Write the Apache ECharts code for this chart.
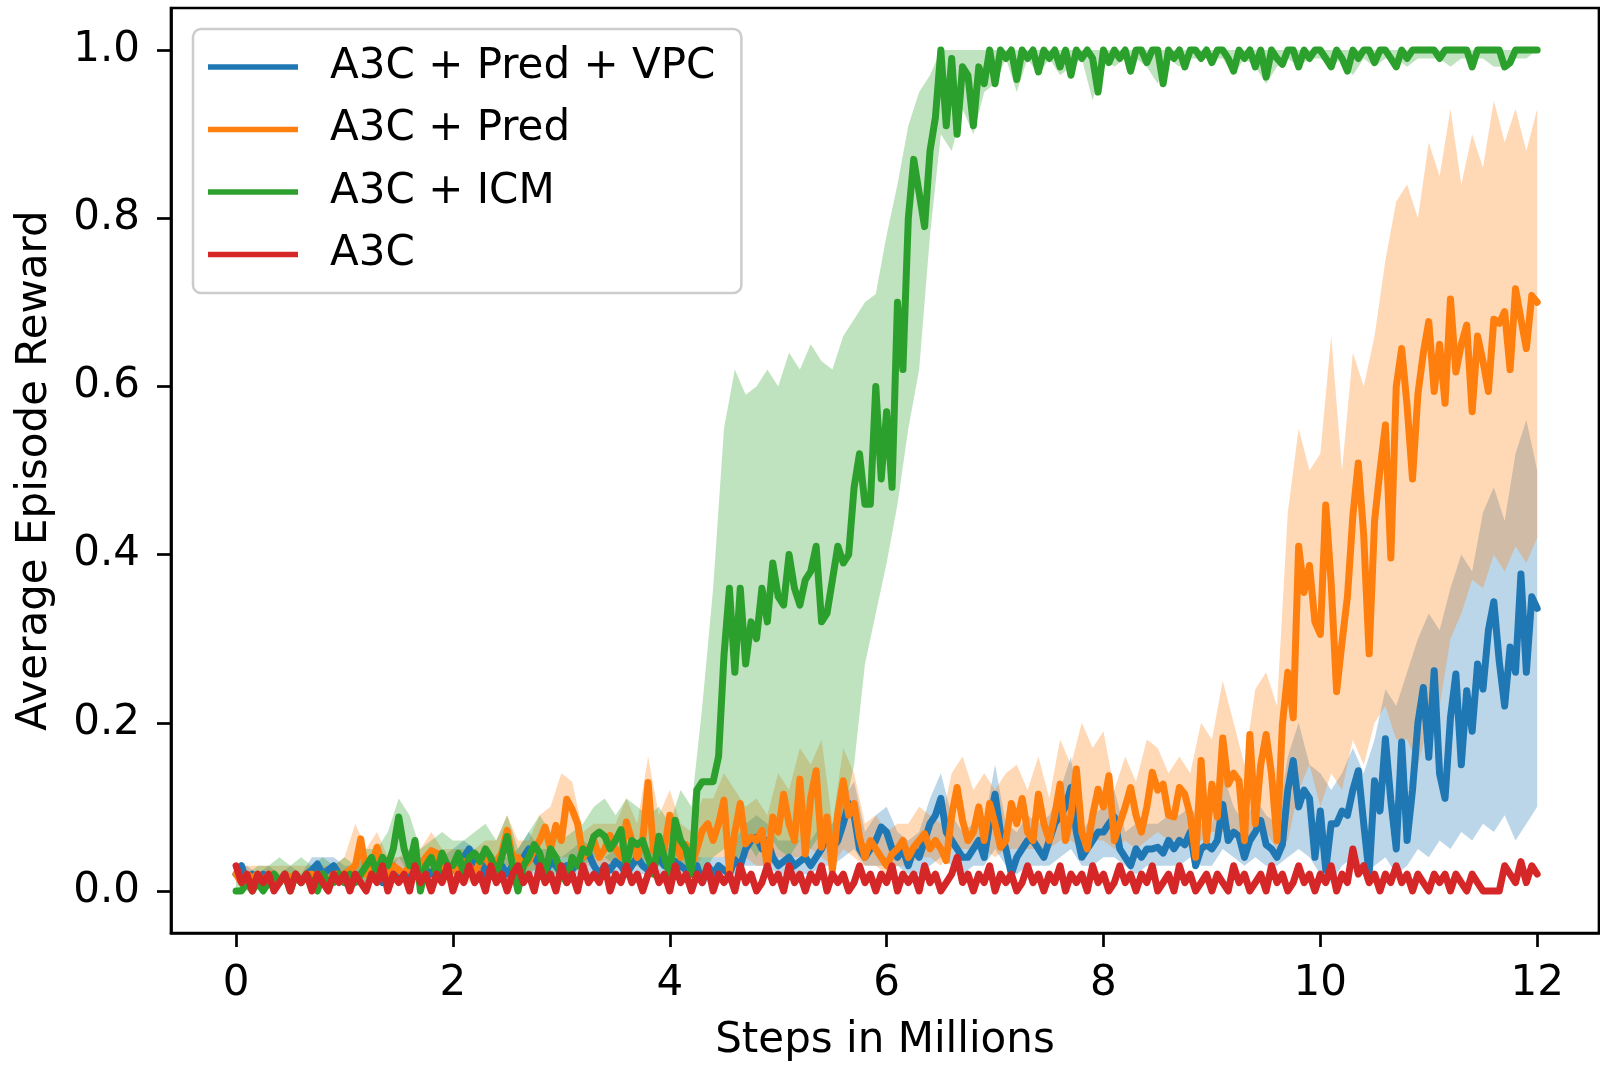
<!DOCTYPE html>
<html>
<head>
<meta charset="utf-8">
<script src="https://cdn.jsdelivr.net/npm/echarts@6/dist/echarts.min.js"></script>
<style>
html, body { margin: 0; padding: 0; background: #fff; }
#chart { width: 1600px; height: 1067px; }
</style>
</head>
<body>
<div id="chart"></div>
<script>
// tick labels
var xTicks = [0, 2, 4, 6, 8, 10, 12];
var yTicks = [0, 0.2, 0.4, 0.6, 0.8, 1.0];
var names = ['A3C + Pred + VPC', 'A3C + Pred', 'A3C + ICM', 'A3C'];
var colors = ['#1f77b4', '#ff7f0e', '#2ca02c', '#d62728'];
var bandColors = ['rgba(31,119,180,0.3)', 'rgba(255,127,14,0.3)', 'rgba(44,160,44,0.3)'];

// mean curves, one value every 0.05M steps (0 .. 12)
var vpcMean = [
  0.02,0.03,0.01,0.02,0.01,0.02,0.01,0.02,0.01,0.02,0.01,0.02,0.01,0.02,0.025,0.032,0.02,0.025,0.03,0.02,
  0.01,0.02,0.015,0.02,0.025,0.035,0.02,0.01,0.02,0.03,0.02,0.015,0.02,0.03,0.02,0.025,0.02,0.03,0.02,0.025,
  0.03,0.02,0.04,0.05,0.03,0.04,0.02,0.03,0.025,0.03,0.02,0.03,0.02,0.04,0.05,0.04,0.03,0.02,0.035,0.03,
  0.02,0.03,0.025,0.035,0.04,0.045,0.03,0.02,0.03,0.025,0.035,0.03,0.02,0.03,0.04,0.03,0.025,0.03,0.04,0.03,
  0.03,0.035,0.03,0.025,0.02,0.03,0.01,0.03,0.02,0.03,0.025,0.02,0.037,0.03,0.05,0.06,0.064,0.05,0.06,0.04,
  0.03,0.035,0.04,0.03,0.035,0.04,0.03,0.04,0.05,0.064,0.05,0.06,0.08,0.104,0.09,0.05,0.04,0.05,0.06,0.076,
  0.07,0.05,0.04,0.05,0.03,0.05,0.04,0.06,0.08,0.09,0.11,0.07,0.06,0.05,0.04,0.04,0.05,0.06,0.04,0.08,
  0.115,0.07,0.05,0.02,0.04,0.05,0.06,0.06,0.05,0.04,0.06,0.08,0.09,0.1,0.123,0.07,0.04,0.05,0.06,0.07,
  0.07,0.08,0.088,0.05,0.04,0.03,0.05,0.04,0.05,0.05,0.052,0.045,0.06,0.05,0.06,0.055,0.07,0.03,0.05,0.055,
  0.05,0.06,0.103,0.06,0.07,0.065,0.04,0.06,0.07,0.084,0.055,0.05,0.04,0.055,0.12,0.155,0.1,0.12,0.11,0.04,
  0.095,0.025,0.08,0.08,0.095,0.09,0.12,0.143,0.08,0.02,0.131,0.095,0.181,0.108,0.05,0.177,0.06,0.12,0.2,0.242,
  0.159,0.262,0.139,0.11,0.206,0.258,0.15,0.238,0.19,0.27,0.24,0.31,0.344,0.273,0.22,0.29,0.26,0.377,0.26,0.35,
  0.336
];
var predMean = [
  0.02,0.01,0.02,0.015,0.02,0.01,0.02,0.02,0.01,0.02,0.015,0.02,0.01,0.02,0.02,0.015,0.02,0.01,0.02,0.02,
  0.02,0.025,0.03,0.062,0.02,0.03,0.052,0.03,0.02,0.03,0.025,0.02,0.03,0.035,0.03,0.04,0.048,0.045,0.03,0.025,
  0.03,0.02,0.035,0.03,0.02,0.035,0.04,0.03,0.035,0.045,0.072,0.04,0.04,0.03,0.035,0.05,0.06,0.076,0.05,0.078,
  0.06,0.109,0.097,0.08,0.04,0.05,0.06,0.04,0.05,0.066,0.05,0.04,0.082,0.06,0.04,0.06,0.129,0.048,0.06,0.05,
  0.09,0.06,0.04,0.055,0.03,0.05,0.072,0.08,0.06,0.08,0.108,0.024,0.07,0.104,0.056,0.064,0.06,0.072,0.028,0.088,
  0.07,0.115,0.08,0.06,0.133,0.044,0.111,0.143,0.052,0.088,0.024,0.092,0.131,0.09,0.104,0.064,0.04,0.06,0.05,0.04,
  0.03,0.044,0.05,0.06,0.04,0.052,0.06,0.068,0.05,0.06,0.05,0.036,0.09,0.123,0.084,0.06,0.07,0.1,0.06,0.104,
  0.08,0.052,0.06,0.104,0.08,0.11,0.07,0.06,0.115,0.08,0.06,0.09,0.127,0.06,0.09,0.145,0.07,0.05,0.09,0.121,
  0.1,0.137,0.06,0.08,0.1,0.123,0.09,0.07,0.1,0.141,0.12,0.127,0.09,0.088,0.123,0.115,0.09,0.04,0.155,0.06,
  0.127,0.088,0.182,0.127,0.14,0.131,0.06,0.186,0.08,0.15,0.186,0.139,0.06,0.198,0.26,0.206,0.41,0.355,0.387,0.32,
  0.305,0.459,0.366,0.237,0.296,0.35,0.446,0.509,0.423,0.282,0.44,0.5,0.554,0.396,0.6,0.645,0.577,0.49,0.591,0.64,
  0.677,0.594,0.65,0.58,0.704,0.617,0.65,0.673,0.57,0.66,0.63,0.594,0.68,0.675,0.689,0.62,0.716,0.68,0.645,0.708,
  0.7
];
var icmMean = [
  0,0,0.01,0,0.01,0,0.01,0.02,0.01,0.02,0,0.02,0.01,0.02,0.01,0,0.02,0.01,0.01,0.02,
  0.01,0.02,0.01,0.02,0.03,0.04,0.02,0.04,0.03,0.05,0.088,0.05,0.03,0.06,0,0.03,0.04,0.02,0.045,0.03,
  0.03,0.045,0.02,0.04,0.045,0.035,0.05,0.04,0.02,0.04,0.065,0.03,0,0.03,0.04,0.055,0.045,0.02,0.05,0.04,
  0.02,0.01,0.04,0.03,0.05,0.045,0.065,0.07,0.065,0.05,0.06,0.073,0.03,0.06,0.055,0.06,0.04,0.02,0.065,0.04,
  0.02,0.084,0.06,0.05,0.02,0.12,0.13,0.13,0.13,0.16,0.28,0.36,0.26,0.36,0.27,0.32,0.3,0.36,0.32,0.39,
  0.35,0.34,0.4,0.36,0.34,0.37,0.38,0.41,0.32,0.33,0.37,0.41,0.39,0.4,0.48,0.52,0.46,0.46,0.6,0.49,
  0.57,0.48,0.7,0.62,0.8,0.87,0.83,0.79,0.88,0.92,1,0.91,0.99,0.9,0.98,0.97,0.91,0.98,0.96,1,
  0.96,1,0.99,1,0.965,1,0.99,1,0.974,1,0.99,1,0.98,1,0.97,1,0.99,1,0.99,0.95,
  1,0.985,1,0.99,1,0.975,1,1,0.985,1,1,0.96,1,0.99,1,0.98,1,1,0.99,1,
  0.985,1,1,0.99,0.975,1,0.99,1,0.98,1,0.968,1,0.99,0.983,1,1,0.98,1,0.99,1,
  1,0.99,0.98,1,0.99,0.975,1,0.99,1,1,0.985,1,1,0.99,0.98,1,0.99,1,1,1,
  1,1,0.99,1,1,1,1,1,0.98,1,1,1,1,1,0.98,0.985,1,1,1,1,
  1
];
var a3cMean = [
  0.03,0.01,0.02,0,0.02,0.01,0.02,0,0.01,0.02,0,0.02,0.01,0.02,0,0.02,0.01,0,0.02,0.01,
  0.02,0,0.02,0.01,0,0.02,0.01,0.03,0,0.02,0.01,0.02,0,0.03,0.01,0.02,0,0.02,0.01,0.03,
  0,0.02,0.01,0.03,0.01,0.02,0,0.03,0.01,0.02,0,0.02,0.03,0.01,0.02,0,0.03,0.01,0.02,0,
  0.03,0.01,0.02,0,0.03,0.01,0.02,0.01,0.03,0,0.02,0.01,0.03,0.01,0.02,0,0.02,0.03,0.01,0.02,
  0,0.03,0.01,0.02,0,0.02,0.01,0.03,0,0.02,0.01,0.02,0,0.03,0.01,0.02,0,0.01,0.03,0.01,
  0.02,0,0.03,0.01,0.02,0,0.02,0.01,0.03,0,0.02,0.01,0.02,0,0.01,0.03,0.01,0.02,0,0.02,
  0.01,0.03,0,0.02,0.01,0.02,0,0.03,0.01,0.02,0,0.01,0.02,0.04,0.01,0.02,0,0.02,0.01,0.03,
  0,0.02,0.01,0.02,0,0.01,0.03,0.01,0.02,0,0.02,0.01,0.03,0,0.02,0.01,0.02,0,0.03,0.01,
  0.02,0,0.01,0.03,0.01,0.02,0,0.02,0.01,0.03,0,0.01,0.02,0,0.03,0.01,0.02,0,0.01,0.02,
  0,0.02,0.01,0,0.03,0.01,0.02,0,0.01,0.02,0,0.03,0.01,0.02,0,0.01,0.03,0.01,0.02,0,
  0.02,0.01,0.03,0,0.02,0.01,0.05,0.02,0.03,0.01,0.02,0,0.02,0.01,0.03,0.01,0.02,0,0.02,0.01,
  0,0.02,0.01,0.02,0,0.02,0.01,0,0.02,0.01,0,0,0,0,0.03,0.02,0.01,0.035,0.01,0.03,
  0.02
];

// shaded bands, one value every 0.1M steps (0 .. 12)
var vpcLow = [
  0.01,0.01,0.01,0.01,0.01,0.01,0.01,0.01,0.01,0.01,
  0.01,0.01,0.01,0.01,0.01,0.01,0.01,0.01,0.01,0.01,
  0.02,0.02,0.02,0.02,0.01,0.01,0.01,0.02,0.02,0.02,
  0.02,0.02,0.02,0.02,0.02,0.02,0.02,0.02,0.02,0.02,
  0.02,0.02,0.02,0.01,0.01,0.02,0.02,0.03,0.03,0.03,
  0.02,0.02,0.02,0.02,0.03,0.03,0.04,0.05,0.03,0.03,
  0.03,0.03,0.02,0.02,0.03,0.04,0.03,0.02,0.03,0.03,
  0.05,0.03,0.02,0.03,0.03,0.03,0.04,0.05,0.03,0.03,
  0.04,0.04,0.03,0.02,0.03,0.03,0.03,0.03,0.04,0.03,
  0.03,0.05,0.04,0.03,0.04,0.03,0.03,0.04,0.05,0.04,
  0.02,0.01,0.03,0.04,0.02,0.03,0.04,0.02,0.03,0.05,
  0.04,0.06,0.05,0.07,0.06,0.08,0.07,0.09,0.06,0.08,
  0.1
];
var vpcHigh = [
  0.03,0.03,0.02,0.03,0.02,0.03,0.02,0.04,0.04,0.04,
  0.03,0.03,0.04,0.04,0.03,0.04,0.04,0.04,0.04,0.04,
  0.05,0.06,0.05,0.04,0.04,0.04,0.05,0.07,0.05,0.05,
  0.04,0.05,0.06,0.05,0.04,0.05,0.04,0.06,0.05,0.06,
  0.05,0.05,0.04,0.04,0.04,0.04,0.06,0.08,0.09,0.08,
  0.06,0.06,0.06,0.06,0.08,0.08,0.11,0.13,0.07,0.09,
  0.1,0.07,0.06,0.07,0.11,0.14,0.09,0.07,0.08,0.08,
  0.15,0.08,0.07,0.09,0.08,0.09,0.12,0.16,0.07,0.09,
  0.1,0.12,0.07,0.08,0.08,0.08,0.09,0.09,0.1,0.08,
  0.08,0.14,0.1,0.08,0.11,0.09,0.08,0.16,0.2,0.15,
  0.14,0.12,0.14,0.17,0.14,0.18,0.24,0.22,0.26,0.3,
  0.33,0.31,0.36,0.4,0.38,0.45,0.48,0.44,0.52,0.56,
  0.5
];
var predLow = [
  0.01,0.01,0.01,0.01,0.01,0.01,0.01,0.01,0.01,0.01,
  0.01,0.01,0.01,0.01,0.01,0.01,0.01,0.02,0.02,0.01,
  0.01,0.01,0.01,0.02,0.02,0.03,0.02,0.02,0.03,0.03,
  0.04,0.04,0.03,0.03,0.03,0.03,0.03,0.03,0.04,0.03,
  0.03,0.03,0.02,0.04,0.04,0.04,0.03,0.04,0.03,0.03,
  0.04,0.04,0.04,0.05,0.04,0.03,0.05,0.04,0.03,0.03,
  0.02,0.03,0.03,0.04,0.04,0.03,0.05,0.05,0.05,0.05,
  0.04,0.05,0.05,0.05,0.05,0.05,0.06,0.06,0.05,0.06,
  0.06,0.05,0.06,0.05,0.06,0.07,0.06,0.06,0.05,0.06,
  0.07,0.07,0.07,0.06,0.07,0.07,0.05,0.06,0.12,0.15,
  0.1,0.14,0.12,0.18,0.15,0.2,0.22,0.18,0.18,0.15,
  0.2,0.22,0.3,0.33,0.37,0.36,0.4,0.38,0.41,0.39,
  0.42
];
var predHigh = [
  0.03,0.03,0.03,0.03,0.03,0.03,0.03,0.03,0.03,0.03,
  0.04,0.08,0.05,0.07,0.04,0.04,0.05,0.05,0.07,0.05,
  0.05,0.05,0.05,0.06,0.06,0.09,0.06,0.06,0.09,0.1,
  0.14,0.13,0.07,0.08,0.08,0.08,0.11,0.08,0.16,0.09,
  0.12,0.08,0.07,0.11,0.11,0.14,0.12,0.1,0.11,0.09,
  0.14,0.12,0.17,0.15,0.18,0.08,0.17,0.14,0.08,0.09,
  0.07,0.08,0.08,0.1,0.09,0.08,0.14,0.16,0.12,0.14,
  0.12,0.14,0.15,0.12,0.16,0.11,0.18,0.15,0.2,0.17,
  0.19,0.12,0.16,0.13,0.18,0.17,0.14,0.16,0.14,0.2,
  0.18,0.25,0.2,0.15,0.24,0.26,0.22,0.45,0.55,0.5,
  0.52,0.66,0.5,0.64,0.6,0.66,0.75,0.82,0.84,0.8,
  0.89,0.85,0.93,0.84,0.9,0.86,0.94,0.89,0.93,0.88,
  0.93
];
var icmLow = [
  0,0,0.01,0.01,0.01,0.01,0.01,0.01,0.01,0.01,
  0.01,0.01,0.01,0.02,0.02,0.04,0.02,0.01,0.02,0.02,
  0.02,0.02,0.02,0.03,0.02,0.03,0.01,0.02,0.03,0.02,
  0.01,0.02,0.03,0.04,0.04,0.03,0.03,0.03,0.02,0.03,
  0.02,0.03,0.02,0.02,0.04,0.05,0.03,0.06,0.04,0.07,
  0.05,0.04,0.06,0.05,0.07,0.06,0.09,0.15,0.27,0.33,
  0.39,0.46,0.55,0.62,0.78,0.9,0.88,0.93,0.9,0.95,
  0.96,0.99,0.95,0.99,0.97,0.99,0.97,0.98,0.99,0.94,
  0.99,0.98,0.99,0.99,0.98,0.96,0.99,0.98,0.99,0.99,
  0.99,0.99,0.97,0.99,0.98,0.96,0.98,0.99,0.98,0.99,
  0.99,0.98,0.99,0.97,0.99,0.98,0.99,0.99,0.98,0.99,
  0.99,0.99,0.98,0.99,0.99,0.99,0.98,0.98,0.99,0.99,
  1
];
var icmHigh = [
  0.01,0.02,0.03,0.03,0.04,0.03,0.04,0.03,0.04,0.03,
  0.04,0.03,0.05,0.05,0.07,0.11,0.09,0.05,0.06,0.07,
  0.06,0.06,0.07,0.08,0.06,0.09,0.05,0.07,0.09,0.07,
  0.06,0.07,0.08,0.1,0.11,0.09,0.11,0.1,0.09,0.1,
  0.08,0.12,0.1,0.22,0.36,0.55,0.62,0.59,0.6,0.62,
  0.6,0.64,0.62,0.65,0.63,0.62,0.66,0.68,0.7,0.71,
  0.78,0.84,0.91,0.95,0.97,1,1,1,1,1,
  1,1,1,1,1,1,1,1,1,1, 1,1,1,1,1,1,1,1,1,1,
  1,1,1,1,1,1,1,1,1,1, 1,1,1,1,1,1,1,1,1,1,
  1,1,1,1,1,1,1,1,1,1,
  1
];

var font = 'DejaVu Sans';

function pts(vals, step) {
  return vals.map(function(v, i) { return [+(i * step).toFixed(2), v]; });
}

// 带状区域: 上沿正向 + 下沿反向, 拼成一个多边形
function band(lo, hi, fill) {
  return {
    type: 'custom', silent: true, z: 1, clip: true,
    data: [[0, 0]],
    renderItem: function(params, api) {
      var points = [];
      for (var i = 0; i < hi.length; i++) points.push(api.coord([i * 0.1, hi[i]]));
      for (var j = lo.length - 1; j >= 0; j--) points.push(api.coord([j * 0.1, lo[j]]));
      return { type: 'polygon', shape: { points: points }, style: { fill: fill, stroke: null } };
    }
  };
}

function curve(idx, vals) {
  return {
    name: names[idx], type: 'line', data: pts(vals, 0.05),
    symbol: 'none', showSymbol: false, silent: true, z: 3,
    itemStyle: { color: colors[idx] },
    lineStyle: { color: colors[idx], width: 7, join: 'round', cap: 'round' }
  };
}

var series = [
  band(vpcLow, vpcHigh, bandColors[0]),
  band(predLow, predHigh, bandColors[1]),
  band(icmLow, icmHigh, bandColors[2]),
  curve(0, vpcMean), curve(1, predMean), curve(2, icmMean), curve(3, a3cMean)
];

var chart = echarts.init(document.getElementById('chart'));
chart.setOption({
  animation: false,
  backgroundColor: '#fff',
  grid: {
    left: 171, top: 8, width: 1428, height: 929,
    show: true, borderColor: '#000', borderWidth: 2.7, backgroundColor: 'transparent'
  },
  legend: {
    data: names, orient: 'vertical', left: 193, top: 29,
    icon: 'rect', itemWidth: 90, itemHeight: 5.5, itemGap: 12.5,
    padding: [13, 26, 13.5, 15],
    backgroundColor: 'rgba(255,255,255,0.8)',
    borderColor: '#cccccc', borderWidth: 2.5, borderRadius: 8,
    selectedMode: false,
    textStyle: { fontFamily: font, fontSize: 42, color: '#000', lineHeight: 50, padding: [0, 0, 0, 27] }
  },
  xAxis: {
    type: 'value', min: -0.6, max: 12.57,
    name: 'Steps in Millions', nameLocation: 'middle', nameGap: 87,
    nameTextStyle: { fontFamily: font, fontSize: 42, color: '#000' },
    axisLine: { show: true, onZero: false, lineStyle: { color: '#000', width: 2.7 } },
    axisTick: { show: true, length: 14, customValues: xTicks, lineStyle: { color: '#000', width: 2.7 } },
    axisLabel: { customValues: xTicks, fontFamily: font, fontSize: 42, color: '#000', margin: 30 },
    splitLine: { show: false }
  },
  yAxis: {
    type: 'value', min: -0.05, max: 1.05,
    name: 'Average Episode Reward', nameLocation: 'middle', nameGap: 115, nameRotate: 90,
    nameTextStyle: { fontFamily: font, fontSize: 42, color: '#000' },
    axisLine: { show: true, onZero: false, lineStyle: { color: '#000', width: 2.7 } },
    axisTick: { show: true, length: 14, customValues: yTicks, lineStyle: { color: '#000', width: 2.7 } },
    axisLabel: {
      customValues: yTicks, fontFamily: font, fontSize: 42, color: '#000', margin: 31,
      formatter: function(v) { return v.toFixed(1); }
    },
    splitLine: { show: false }
  },
  series: series
});
</script>
</body>
</html>
